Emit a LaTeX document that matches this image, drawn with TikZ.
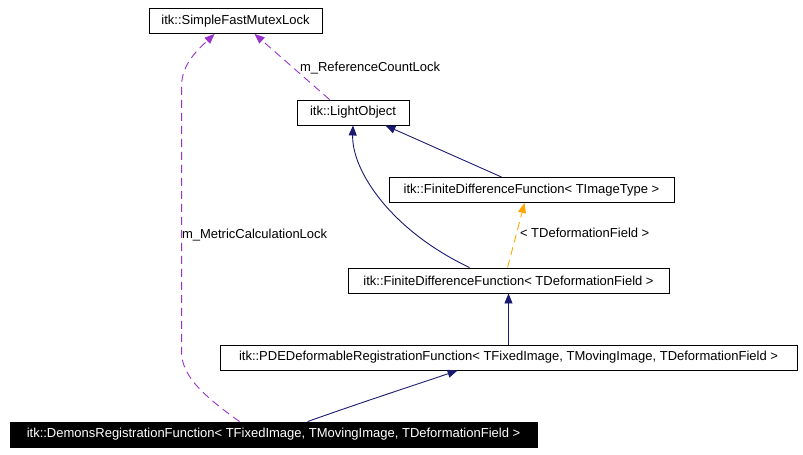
\documentclass[tikz,border=0pt]{standalone}
\usepackage{fontspec}
\setmainfont{Liberation Sans}
\usetikzlibrary{
    positioning,                      % right=of, below=of, etc.
    arrows.meta,                      % puntas (Triangle)
    calc                              % aritmetica de coordenadas
}
\definecolor{edge_navy}{RGB}{25,25,112}
\definecolor{edge_purple}{RGB}{154,50,205}
\definecolor{edge_orange}{RGB}{255,165,0}
\tikzset{
    classbox/.style={
        rectangle, draw=black, fill=white, line width=0.9pt,
        minimum height=25pt, inner sep=2pt,
        font=\fontsize{13}{15}\selectfont
    },
    focusbox/.style={
        classbox, fill=black, text=white
    },
    inherit/.style={
        -{Triangle[length=10pt, width=8pt]}, edge_navy, line width=0.9pt
    },
    usage/.style={
        -{Triangle[length=10pt, width=8pt]}, edge_purple, line width=0.9pt,
        dash pattern=on 8pt off 5pt
    },
    templ/.style={
        -{Triangle[length=10pt, width=8pt]}, edge_orange, line width=0.9pt,
        dash pattern=on 8pt off 5pt
    },
    edgelabel/.style={
        font=\fontsize{13}{15}\selectfont, text=black, inner sep=0pt, anchor=west
    }
}

\begin{document}
\begin{tikzpicture}[x=1pt, y=-1pt]

        \useasboundingbox (0,0) rectangle (803,455);

        % Clases
        \node[classbox, minimum width=173pt] (mutex) at (235.5,21) {itk::SimpleFastMutexLock};
        \node[classbox, minimum width=112pt] (light) at (353,112.5) {itk::LightObject};
        \node[classbox, minimum width=285pt] (fdfimg) at (531.5,190)
            {itk::FiniteDifferenceFunction< TImageType >};
        \node[classbox, minimum width=321pt] (fdfdef) at (508.5,280.5)
            {itk::FiniteDifferenceFunction< TDeformationField >};
        \node[classbox, minimum width=577pt] (pde) at (508.5,357.5)
            {itk::PDEDeformableRegistrationFunction< TFixedImage, TMovingImage, TDeformationField >};
        \node[focusbox, minimum width=527pt] (demons) at (273.5,434.5)
            {itk::DemonsRegistrationFunction< TFixedImage, TMovingImage, TDeformationField >};

        % Herencia
        \draw[inherit] ($(demons.north west)+(298,0)$)
            .. controls ($(demons.north west)+(360,-22)$) and ($(demons.north west)+(410,-38)$)
            .. ($(pde.south west)+(238,0)$);
        \draw[inherit] (pde.north) -- (pde.north |- fdfdef.south);
        \draw[inherit] ($(fdfdef.north west)+(122,0)$)
            .. controls ($(fdfdef.north west)+(42,-38)$) and ($(fdfdef.north west)+(4,-98)$)
            .. (light.south);
        \draw[inherit] ($(fdfimg.north west)+(113,0)$) -- ($(light.south east)+(-24,0)$);

        % Plantilla
        \draw[templ] ($(fdfdef.north west)+(160,0)$) -- ($(fdfimg.south west)+(136,0)$)
            node[edgelabel, pos=0.53, xshift=3pt] {< TDeformationField >};

        % Uso (miembros)
        \draw[usage] ($(light.north west)+(33,0)$) -- ($(mutex.south west)+(106,0)$)
            node[edgelabel, pos=0.48, xshift=6pt] {m\_ReferenceCountLock};
        \draw[usage] ($(demons.north west)+(230,0)$)
            .. controls ($(demons.north west)+(195,-25)$) and ($(demons.north west)+(172,-45)$)
            .. ($(demons.north west)+(172,-70)$) coordinate (bend)
            -- ($(mutex.south west)+(33,52)$) coordinate (top)
            node[edgelabel, pos=0.44] {m\_MetricCalculationLock}
            .. controls ($(mutex.south west)+(33,30)$) and ($(mutex.south west)+(50,15)$)
            .. ($(mutex.south west)+(66,0)$);

    \end{tikzpicture}
\end{document}
